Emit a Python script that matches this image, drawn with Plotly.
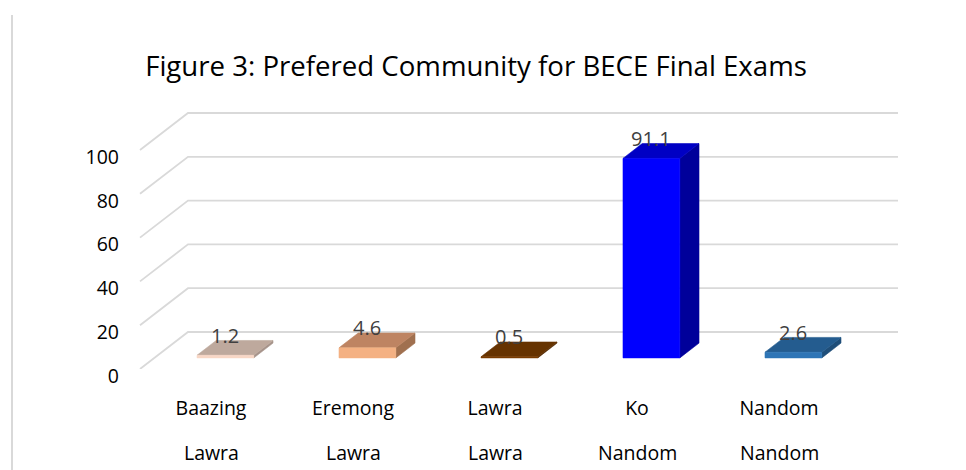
import plotly.graph_objects as go

# ---- data ----
categories_line1 = ["Baazing", "Eremong", "Lawra", "Ko", "Nandom"]
categories_line2 = ["Lawra", "Lawra", "Lawra", "Nandom", "Nandom"]
values = [1.2, 4.6, 0.5, 91.1, 2.6]
y_ticks = [0, 20, 40, 60, 80, 100]
title_text = "Figure 3: Prefered Community for BECE Final Exams"

# ---- styles ----
front_colors = ["#F8D7C6", "#F4B183", "#7A3D00", "#0000FF", "#2E75B6"]
top_colors = ["#BEA99D", "#BE8462", "#663300", "#0000C4", "#245C8F"]
side_colors = ["#A6938A", "#A0704F", "#4F2700", "#00009A", "#1F4E79"]
grid_color = "#D9D9D9"
FONT = "Open Sans"
TICK_SIZE = 19.5

# 3D pseudo-projection parameters (axis units)
PX_PER_CAT = 142.0
PX_PER_VAL = 2.19
DX = 48.0 / PX_PER_CAT      # depth shift in category units
DY = 37.0 / PX_PER_VAL      # depth shift in value units
HALF_W = 0.2
D_FRONT, D_BACK = 0.3, 0.7
N = len(values)
PLOT_H = 369


def proj(c, v, d):
    return c + d * DX, v + d * DY


fig = go.Figure()

# gridlines: left side wall diagonals + back wall horizontals
for t in y_ticks:
    pts = [proj(0, t, 0), proj(0, t, 1), proj(N, t, 1)]
    fig.add_trace(go.Scatter(
        x=[p[0] for p in pts], y=[p[1] for p in pts], mode="lines",
        line=dict(color=grid_color, width=1.8), hoverinfo="skip", showlegend=False))


def poly(pts, color):
    xs = [p[0] for p in pts] + [pts[0][0]]
    ys = [p[1] for p in pts] + [pts[0][1]]
    fig.add_trace(go.Scatter(x=xs, y=ys, mode="lines", fill="toself",
                             fillcolor=color, line=dict(color=color, width=0.6),
                             hoverinfo="skip", showlegend=False))


for i, v in enumerate(values):
    c = i + 0.5
    l, r = c - HALF_W, c + HALF_W
    # side face
    poly([proj(r, 0, D_FRONT), proj(r, v, D_FRONT), proj(r, v, D_BACK), proj(r, 0, D_BACK)], side_colors[i])
    # top face
    poly([proj(l, v, D_FRONT), proj(r, v, D_FRONT), proj(r, v, D_BACK), proj(l, v, D_BACK)], top_colors[i])
    # front face
    poly([proj(l, 0, D_FRONT), proj(r, 0, D_FRONT), proj(r, v, D_FRONT), proj(l, v, D_FRONT)], front_colors[i])
    # data label
    lx, ly = proj(c, v, D_FRONT)
    fig.add_annotation(x=lx, y=ly, text=f"{v}", showarrow=False, xanchor="center",
                       yanchor="middle", yshift=20,
                       font=dict(family=FONT, size=20, color="#404040"))

# second line of the category labels
for i, name in enumerate(categories_line2):
    fig.add_annotation(x=i + 0.5, y=-(452 - PLOT_H) / PLOT_H, xref="x", yref="paper",
                       text=name, showarrow=False, xanchor="center", yanchor="middle",
                       font=dict(family=FONT, size=TICK_SIZE, color="#000000"))

x0 = -12.0 / PX_PER_CAT
fig.update_layout(
    width=966, height=470,
    margin=dict(l=128, r=0, t=0, b=470 - PLOT_H),
    paper_bgcolor="white", plot_bgcolor="white",
    title=dict(text=title_text, x=476 / 966, xanchor="center", xref="container",
               y=1 - 66 / 470, yanchor="middle", yref="container",
               font=dict(family=FONT, size=27.6, color="#000000")),
    xaxis=dict(range=[x0, x0 + 838 / PX_PER_CAT], showgrid=False, zeroline=False,
               showline=False, tickvals=[i + 0.5 for i in range(N)], ticktext=categories_line1,
               ticks="", ticklabelstandoff=25,
               tickfont=dict(family=FONT, size=TICK_SIZE, color="#000000")),
    yaxis=dict(range=[0, PLOT_H / PX_PER_VAL], showgrid=False, zeroline=False,
               showline=False, tickvals=y_ticks, ticks="", ticklabelstandoff=8,
               ticklabelshift=7,
               tickfont=dict(family=FONT, size=TICK_SIZE, color="#000000")),
)

# thin frame line at the far left of the image
fig.add_shape(type="line", xref="paper", yref="paper",
              x0=(12 - 128) / 838, x1=(12 - 128) / 838,
              y0=1 - 15 / PLOT_H, y1=-(470 - PLOT_H) / PLOT_H,
              line=dict(color=grid_color, width=2))

fig.write_html("out.html")
